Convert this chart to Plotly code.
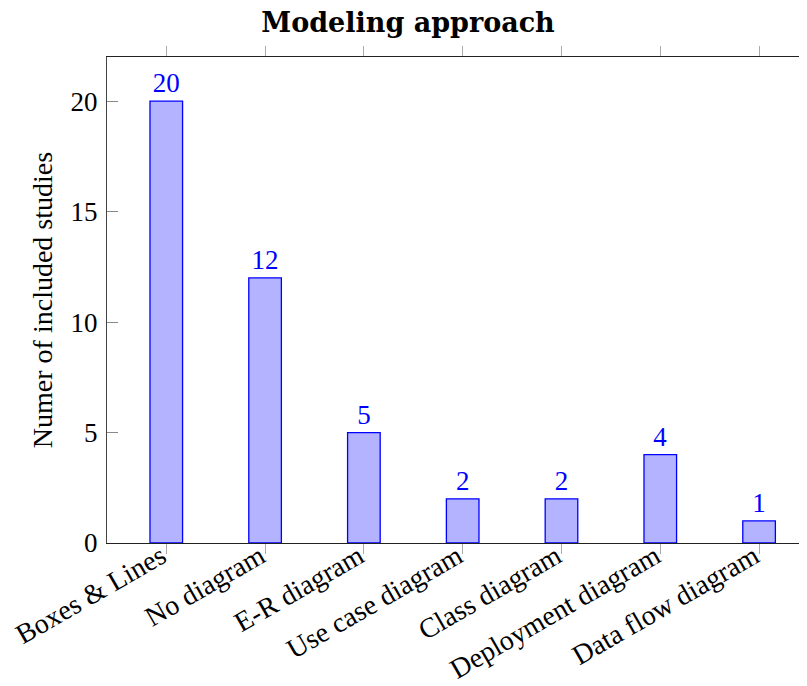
import plotly.graph_objects as go

categories = ["Boxes & Lines", "No diagram", "E-R diagram", "Use case diagram",
              "Class diagram", "Deployment diagram", "Data flow diagram"]
values = [20, 12, 5, 2, 2, 4, 1]
y_ticks = [0, 5, 10, 15, 20]

FONT = "Liberation Serif"
OFF = 8  # page offset of the figure inside the browser

fig = go.Figure()
fig.add_trace(go.Bar(
    x=list(range(len(categories))),
    y=values,
    width=0.33,
    marker=dict(color="rgb(179,179,255)", line=dict(color="rgb(0,0,255)", width=1.3)),
    text=[str(v) for v in values],
    textposition="outside",
    textfont=dict(family=FONT, size=27, color="rgb(0,0,255)"),
    cliponaxis=False,
))

fig.update_layout(
    width=807, height=686,
    margin=dict(l=107 - OFF, r=0, t=57 - OFF, b=686 - (542 - OFF) - 1),
    paper_bgcolor="white", plot_bgcolor="white",
    showlegend=False,
    title=dict(text="<b>Modeling approach</b>", x=(408 - OFF) / 807, xanchor="center",
               y=1 - (23 - OFF) / 686, yanchor="middle",
               font=dict(family="DejaVu Serif", size=27, color="black")),
    xaxis=dict(
        range=[-0.6, 6.566],
        tickmode="array",
        tickvals=list(range(len(categories))),
        ticktext=categories,
        tickangle=-30,
        ticks="outside", ticklen=10, tickcolor="#aaaaaa", tickwidth=1,
        ticklabelstandoff=-25, ticklabelshift=-5,
        showline=True, linecolor="#222222", linewidth=1.2,
        mirror="allticks",
        showgrid=False, zeroline=False,
        tickfont=dict(family=FONT, size=28, color="black"),
    ),
    yaxis=dict(
        range=[0, 22],
        tickmode="array", tickvals=y_ticks,
        ticks="inside", ticklen=11, tickcolor="#888888", tickwidth=1,
        showline=True, linecolor="#444444", linewidth=1.2,
        showgrid=False, zeroline=False,
        ticklabelstandoff=3,
        tickfont=dict(family=FONT, size=27, color="black"),
        title=dict(text="Numer of included studies",
                   font=dict(family=FONT, size=28, color="black"), standoff=9),
    ),
)

fig.write_html("out.html")
